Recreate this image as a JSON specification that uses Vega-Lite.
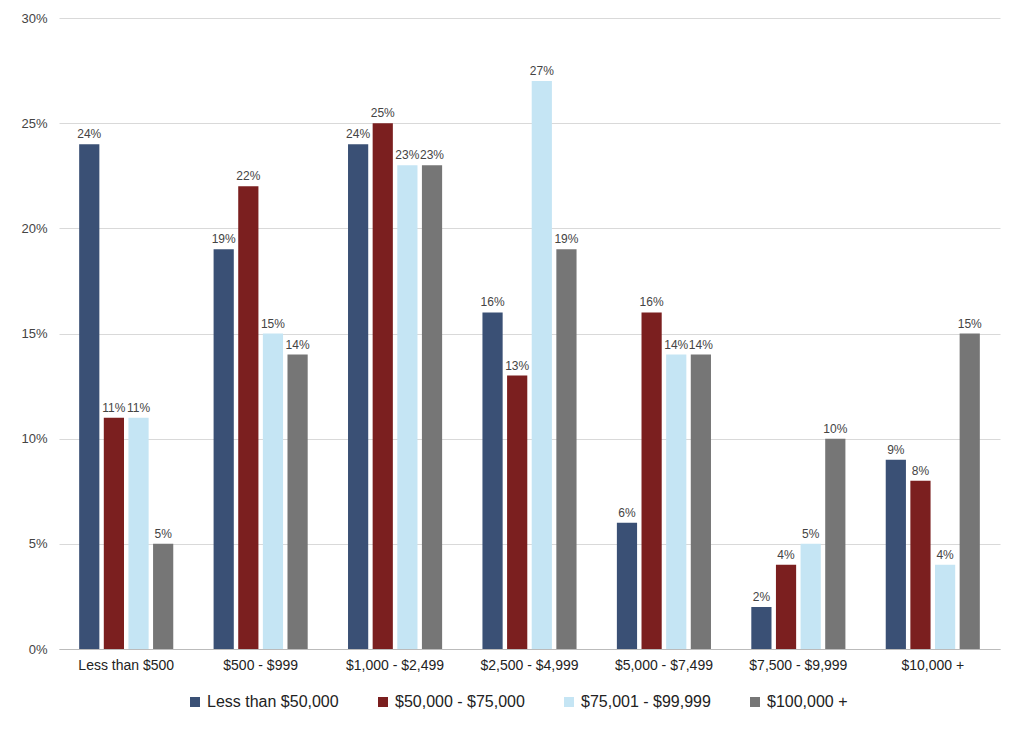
{
  "$schema": "https://vega.github.io/schema/vega-lite/v6.json",
  "width": 1024,
  "height": 736,
  "autosize": {"type": "fit", "contains": "padding"},
  "padding": {"left": 20, "right": 24, "top": 12, "bottom": 64},
  "background": "white",
  "view": {"stroke": null},
  "config": {"font": "Liberation Sans"},
  "data": {"values": [
    {"cat": "Less than $500", "s": "Less than $50,000", "v": 0.24},
    {"cat": "Less than $500", "s": "$50,000 - $75,000", "v": 0.11},
    {"cat": "Less than $500", "s": "$75,001 - $99,999", "v": 0.11},
    {"cat": "Less than $500", "s": "$100,000 +", "v": 0.05},
    {"cat": "$500 - $999", "s": "Less than $50,000", "v": 0.19},
    {"cat": "$500 - $999", "s": "$50,000 - $75,000", "v": 0.22},
    {"cat": "$500 - $999", "s": "$75,001 - $99,999", "v": 0.15},
    {"cat": "$500 - $999", "s": "$100,000 +", "v": 0.14},
    {"cat": "$1,000 - $2,499", "s": "Less than $50,000", "v": 0.24},
    {"cat": "$1,000 - $2,499", "s": "$50,000 - $75,000", "v": 0.25},
    {"cat": "$1,000 - $2,499", "s": "$75,001 - $99,999", "v": 0.23},
    {"cat": "$1,000 - $2,499", "s": "$100,000 +", "v": 0.23},
    {"cat": "$2,500 - $4,999", "s": "Less than $50,000", "v": 0.16},
    {"cat": "$2,500 - $4,999", "s": "$50,000 - $75,000", "v": 0.13},
    {"cat": "$2,500 - $4,999", "s": "$75,001 - $99,999", "v": 0.27},
    {"cat": "$2,500 - $4,999", "s": "$100,000 +", "v": 0.19},
    {"cat": "$5,000 - $7,499", "s": "Less than $50,000", "v": 0.06},
    {"cat": "$5,000 - $7,499", "s": "$50,000 - $75,000", "v": 0.16},
    {"cat": "$5,000 - $7,499", "s": "$75,001 - $99,999", "v": 0.14},
    {"cat": "$5,000 - $7,499", "s": "$100,000 +", "v": 0.14},
    {"cat": "$7,500 - $9,999", "s": "Less than $50,000", "v": 0.02},
    {"cat": "$7,500 - $9,999", "s": "$50,000 - $75,000", "v": 0.04},
    {"cat": "$7,500 - $9,999", "s": "$75,001 - $99,999", "v": 0.05},
    {"cat": "$7,500 - $9,999", "s": "$100,000 +", "v": 0.10},
    {"cat": "$10,000 +", "s": "Less than $50,000", "v": 0.09},
    {"cat": "$10,000 +", "s": "$50,000 - $75,000", "v": 0.08},
    {"cat": "$10,000 +", "s": "$75,001 - $99,999", "v": 0.04},
    {"cat": "$10,000 +", "s": "$100,000 +", "v": 0.15}
  ]},
  "encoding": {
    "x": {"field": "cat", "type": "nominal", "sort": null,
      "scale": {"paddingInner": 0.3, "paddingOuter": 0.15},
      "axis": {"title": null, "labelAngle": 0, "labelFontSize": 14, "labelColor": "#222", "domainColor": "#bbb", "ticks": false, "labelPadding": 9}},
    "xOffset": {"field": "s", "type": "nominal", "sort": ["Less than $50,000", "$50,000 - $75,000", "$75,001 - $99,999", "$100,000 +"], "scale": {"paddingInner": 0.18}},
    "y": {"field": "v", "type": "quantitative", "scale": {"domain": [0, 0.3]},
      "axis": {"title": null, "format": ".0%", "tickCount": 6, "labelFontSize": 13, "labelColor": "#444", "domain": false, "ticks": false, "gridColor": "#d9d9d9", "labelPadding": 12}}
  },
  "layer": [
    {"mark": {"type": "bar"},
     "encoding": {"color": {"field": "s", "type": "nominal",
       "sort": ["Less than $50,000", "$50,000 - $75,000", "$75,001 - $99,999", "$100,000 +"],
       "scale": {"domain": ["Less than $50,000", "$50,000 - $75,000", "$75,001 - $99,999", "$100,000 +"], "range": ["#3a5075", "#7b1f1f", "#c5e5f4", "#767676"]},
       "legend": {"title": null, "orient": "none", "legendX": 128, "legendY": 676, "direction": "horizontal", "symbolType": "square", "labelFontSize": 16, "labelColor": "#222", "columnPadding": 36, "symbolSize": 100}}}},
    {"mark": {"type": "text", "dy": -10, "fontSize": 12, "color": "#444"},
     "encoding": {"text": {"field": "v", "type": "quantitative", "format": ".0%"}}}
  ]
}
